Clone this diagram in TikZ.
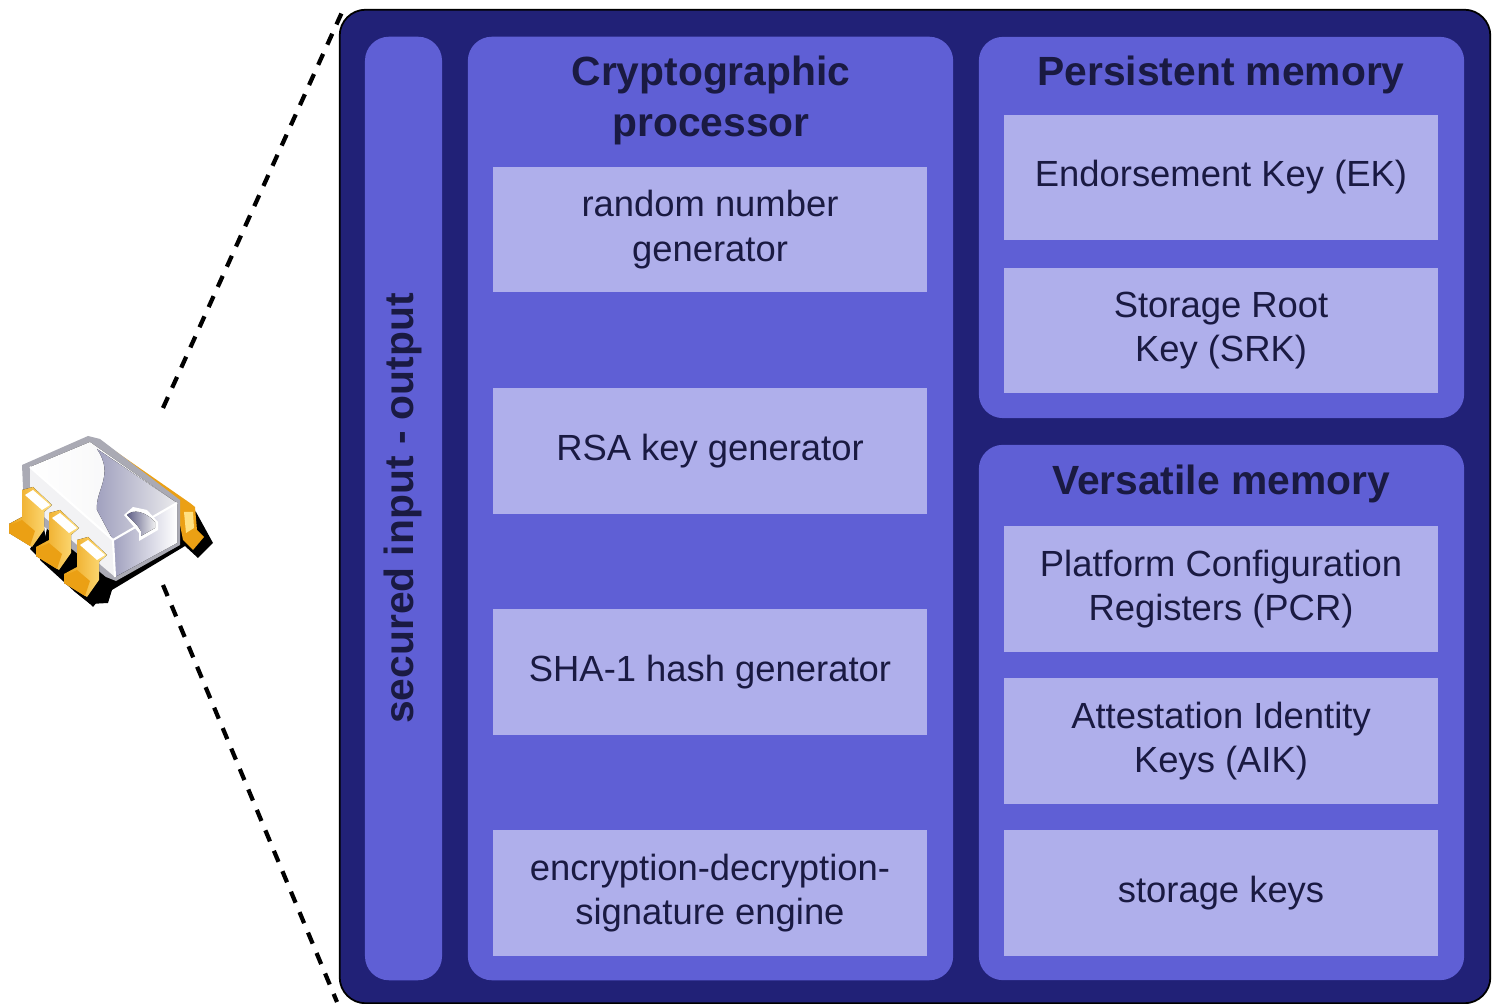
\documentclass[tikz,border=0pt]{standalone}
\usepackage{fontspec}
\setmainfont{Liberation Sans}
\usepackage{tikz}
\definecolor{outerblue}{RGB}{33,33,119}
\definecolor{groupblue}{RGB}{95,95,213}
\definecolor{boxblue}{RGB}{175,175,235}
\definecolor{inkblue}{RGB}{26,26,66}
\definecolor{pingold}{RGB}{235,160,20}
\definecolor{pinlight}{RGB}{255,225,130}
\definecolor{chipgray}{RGB}{170,170,180}
\definecolor{chipshade}{RGB}{160,160,190}
\definecolor{chipnotch}{RGB}{95,95,135}

\begin{document}
\begin{tikzpicture}[x=0.01cm,y=-0.01cm]
  \tikzstyle{outer}=[rectangle,rounded corners=0.26cm,fill=outerblue,draw=black,line width=0.5pt,minimum width=11.5cm,minimum height=9.93cm]
  \tikzstyle{group}=[rectangle,rounded corners=0.24cm,fill=groupblue,minimum width=4.85cm]
  \tikzstyle{item}=[rectangle,fill=boxblue,text=inkblue,align=center,minimum width=4.34cm,minimum height=1.25cm,inner sep=0pt,font=\fontsize{10.35}{12.7}\selectfont]
  \tikzstyle{heading}=[text=inkblue,align=center,inner sep=0pt,font=\fontsize{11.6}{14.5}\selectfont\bfseries]
  \tikzstyle{link}=[black,line width=1.2pt,dash pattern=on 3.4pt off 2.9pt]
  \useasboundingbox (0,0) rectangle (1494,1004);

  \node[outer] (G_outer) at (915,506.5) {};
  \node[group,minimum width=0.77cm,minimum height=9.43cm] (G_io) at (403.5,508.5) {};
  \node[group,minimum height=9.43cm] (G_crypto) at (710.5,508.5) {};
  \node[group,minimum height=3.81cm] (G_persist) at (1221.5,227.5) {};
  \node[group,minimum height=5.35cm] (G_versatile) at (1221.5,712.5) {};

  \node[heading,rotate=90] (T_io) at (403,508.5) {secured input - output};
  \node[heading] (T_crypto) at (711,100) {Cryptographic\\processor};
  \node[heading] (T_persist) at (1221,75) {Persistent memory};
  \node[heading] (T_versatile) at (1221,484) {Versatile memory};

  \node[item] (B_rng) at (710,229.5) {random number\\generator};
  \node[item] (B_rsa) at (710,451) {RSA key generator};
  \node[item] (B_sha) at (710,672) {SHA-1 hash generator};
  \node[item] (B_eng) at (710,893) {encryption-decryption-\\signature engine};
  \node[item] (B_ek) at (1221,177.5) {Endorsement Key (EK)};
  \node[item] (B_srk) at (1221,330.5) {Storage Root\\Key (SRK)};
  \node[item] (B_pcr) at (1221,589) {Platform Configuration\\Registers (PCR)};
  \node[item] (B_aik) at (1221,741) {Attestation Identity\\Keys (AIK)};
  \node[item] (B_keys) at (1221,893) {storage keys};

  \coordinate (C_top) at (163,408);
  \coordinate (C_bot) at (163,585);
  \coordinate (O_top) at (343,10);
  \coordinate (O_bot) at (337,1002);
  \draw[link] (C_top) -- (O_top);
  \draw[link] (C_bot) -- (O_bot);

  % chip
  \fill[black] (105,445) -- (196,512) -- (213,543) -- (198,558) -- (185,546) -- (112,590) -- (108,603) -- (90,604) -- (75,592) -- (40,560) -- (60,470) -- cycle;
  \fill[pingold] (105,444) -- (190,503) -- (195,507) -- (197,530) -- (204,537) -- (193,550) -- (183,540) -- (176,505) -- cycle;
  \fill[pinlight] (184,512) -- (193,512) -- (194,528) -- (186,533) -- cycle;
  \fill[chipgray] (22,465) -- (88,436) -- (100,439) -- (180,500) -- (180,545) -- (116,581) -- (106,577) -- (24,510) -- cycle;
  \fill[left color=white,right color=white!85!chipgray] (30,467) -- (90,442) -- (177,503) -- (113,540) -- cycle;
  \fill[left color=chipshade,right color=white!75!chipgray] (97,449) .. controls (115,475) and (95,490) .. (97,510) -- (113,540) -- (177,503) -- cycle;
  \fill[left color=chipshade,right color=white] (113,540) -- (177,503) -- (177,543) -- (115,577) -- cycle;
  \fill[white!85!chipgray] (30,467) -- (113,540) -- (115,577) -- (30,505) -- cycle;
  \draw[white,line width=0.6pt] (113,540) -- (177,503) (113,540) -- (115,577) (30,467) -- (113,540);
  \fill[white] (124,515) -- (133,507) -- (147,510) -- (158,522) -- (158,530) -- (139,541) -- (139,533) -- cycle;
  \fill[left color=chipnotch,right color=white!80!chipgray] (127,515) .. controls (133,509) and (145,511) .. (155,522) -- (155,528) -- (141,536) -- (141,531) .. controls (138,525) and (132,520) .. (127,515) -- cycle;
  \foreach \dx/\dy in {0/0,27/23,55/50} {
    \begin{scope}[shift={(\dx,\dy)}]
      \fill[black] (30,549) -- (44,528) -- (47,546) -- (38,557) -- cycle;
      \fill[left color=pingold,right color=pinlight] (22,490) -- (33,487) -- (52,505) -- (44,512) -- (44,530) -- (32,547) -- (9,533) -- (9,524) -- (22,517) -- cycle;
      \fill[pingold] (9,526) -- (22,520) -- (35,531) -- (30,546) -- (9,533) -- cycle;
      \fill[white] (25,495) -- (33,490) -- (50,505) -- (42,510) -- cycle;
    \end{scope}
  }
\end{tikzpicture}
\end{document}
